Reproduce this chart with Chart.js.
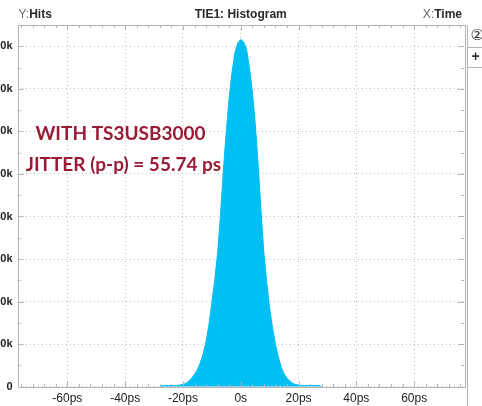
<!DOCTYPE html>
<html>
<head>
<meta charset="utf-8">
<script src="https://cdn.jsdelivr.net/npm/chart.js@4.4.1/dist/chart.umd.min.js"></script>
<style>
html, body { margin: 0; padding: 0; background: #fff; }
#wrap { position: relative; width: 482px; height: 406px; overflow: hidden; }
#hist { position: absolute; left: -30px; top: 0; }
</style>
</head>
<body>
<div id="wrap"><canvas id="hist" width="512" height="406"></canvas></div>
<script>
// histogram bins (TIE, ps)
var binTimes = [-28, -27, -26, -25, -24, -23, -22, -21, -20, -19, -18, -17, -16, -15, -14, -13, -12, -11, -10, -9, -8, -7, -6, -5, -4, -3, -2, -1,
  0, 1, 2, 3, 4, 5, 6, 7, 8, 9, 10, 11, 12, 13, 14, 15, 16, 17, 18, 19, 20, 21, 22, 23, 24, 25, 26, 27, 28];
// hits per bin, in thousands
var hits = [0, 0.3, 0.3, 0.3, 0.3, 0.3, 0.3, 0.4, 0.5, 0.8, 1.3, 2.0, 2.9, 4.0, 5.6, 7.8, 10.6, 14.6, 19.8, 25.0, 31.5, 40.5, 51.0, 60.0, 68.0, 74.0, 78.5, 80.8,
  81.6, 81.0, 79.3, 75.0, 69.5, 62.0, 52.5, 41.5, 31.5, 24.5, 18.5, 13.8, 10.0, 7.0, 4.6, 3.0, 2.0, 1.3, 0.8, 0.5, 0.4, 0.3, 0.3, 0.3, 0.3, 0.3, 0.3, 0.3, 0];

var xTickValues = [-60, -40, -20, 0, 20, 40, 60];
var yTickValues = [0, 10, 20, 30, 40, 50, 60, 70, 80];

var title = 'TIE1: Histogram';
var yName = 'Hits';
var xName = 'Time';
var noteLines = ['WITH TS3USB3000', 'JITTER (p-p) = 55.74 ps'];

var cyan = '#00bff2';
var gridGray = '#bdbdbd';
var frameGray = '#b4b4b4';

var scopeFrame = {
  id: 'scopeFrame',
  afterDatasetsDraw: function(chart) {
    var c = chart.ctx, a = chart.chartArea;
    var xs = chart.scales.x, ys = chart.scales.y;
    c.save();
    c.strokeStyle = frameGray;
    c.lineWidth = 1;
    c.strokeRect(Math.round(a.left) + 0.5, Math.round(a.top) + 0.5, Math.round(a.right - a.left), Math.round(a.bottom - a.top));
    c.beginPath();
    // time ticks every 4 ps on top and bottom edges
    for (var t = -76; t <= 76; t += 4) {
      var px = Math.round(xs.getPixelForValue(t)) + 0.5;
      var len = (t % 20 === 0) ? 5 : 3;
      c.moveTo(px, a.bottom); c.lineTo(px, a.bottom - len);
      c.moveTo(px, a.top); c.lineTo(px, a.top + len);
    }
    // hit ticks every 5k on left and right edges
    for (var h = 5; h < 85; h += 5) {
      var py = Math.round(ys.getPixelForValue(h)) + 0.5;
      var l2 = (h % 10 === 0) ? 6 : 3;
      c.moveTo(a.left, py); c.lineTo(a.left + l2, py);
      c.moveTo(a.right, py); c.lineTo(a.right - l2, py);
    }
    c.stroke();

    // side panel of the scope window
    var sx = Math.round(a.right) + 3.5;
    c.beginPath();
    c.moveTo(sx, a.top); c.lineTo(sx, chart.height);
    c.moveTo(sx, 47.5); c.lineTo(chart.width, 47.5);
    c.moveTo(sx, 67.5); c.lineTo(chart.width, 67.5);
    c.stroke();
    c.fillStyle = '#333';
    c.textBaseline = 'middle';
    c.textAlign = 'left';
    c.font = '15px "DejaVu Sans"';
    c.fillText('\u2461', sx + 3, 36);
    c.font = 'bold 14px "Liberation Sans"';
    c.fillText('+', sx + 4, 57);

    // header line
    c.font = 'bold 12px "Liberation Sans"';
    c.textAlign = 'center';
    c.fillStyle = '#2a2a2a';
    c.fillText(title, (a.left + a.right) / 2, 15);
    c.textAlign = 'left';
    c.font = '12px "Liberation Sans"';
    c.fillStyle = '#666';
    c.fillText('Y:', a.left + 1, 15);
    var w = c.measureText('Y:').width;
    c.font = 'bold 12px "Liberation Sans"';
    c.fillStyle = '#2a2a2a';
    c.fillText(yName, a.left + 1 + w, 15);
    var tw = c.measureText(xName).width;
    c.textAlign = 'right';
    c.fillText(xName, a.right - 2, 15);
    c.font = '12px "Liberation Sans"';
    c.fillStyle = '#666';
    c.fillText('X:', a.right - 2 - tw, 15);

    // annotation
    c.font = 'bold 19px Lato';
    c.fillStyle = '#9b1b36';
    c.textAlign = 'center';
    c.fillText(noteLines[0], a.left + 103, 134);
    c.fillText(noteLines[1], a.left + 106, 165);
    c.restore();
  }
};

var points = binTimes.map(function(t, i) { return { x: t, y: hits[i] }; });

new Chart(document.getElementById('hist').getContext('2d'), {
  type: 'line',
  data: {
    datasets: [{
      data: points,
      borderColor: cyan,
      backgroundColor: cyan,
      borderWidth: 1,
      fill: 'origin',
      pointRadius: 0,
      tension: 0
    }]
  },
  options: {
    responsive: false,
    animation: false,
    layout: { padding: { top: 25, right: 18, left: 0, bottom: 0 } },
    plugins: { legend: { display: false }, tooltip: { enabled: false } },
    scales: {
      x: {
        type: 'linear',
        min: -77.25,
        max: 77.25,
        afterBuildTicks: function(s) { s.ticks = xTickValues.map(function(v) { return { value: v }; }); },
        afterFit: function(s) { s.height = 19.3; },
        ticks: {
          autoSkip: false,
          maxRotation: 0,
          padding: 5,
          color: '#222',
          font: { family: 'Liberation Sans', size: 12 },
          callback: function(v) { return v === 0 ? '0s' : v + 'ps'; }
        },
        grid: { color: gridGray, drawTicks: false },
        border: { display: false, dash: [1, 3] }
      },
      y: {
        min: 0,
        max: 85,
        afterBuildTicks: function(s) { s.ticks = yTickValues.map(function(v) { return { value: v }; }); },
        afterFit: function(s) { s.width = 47.5; },
        ticks: {
          padding: 5,
          color: '#222',
          font: { family: 'Liberation Sans', size: 11, weight: 'bold' },
          callback: function(v) { return v === 0 ? '0' : v + 'k'; }
        },
        grid: { color: gridGray, drawTicks: false },
        border: { display: false, dash: [1, 3] }
      }
    }
  },
  plugins: [scopeFrame]
});
</script>
</body>
</html>
